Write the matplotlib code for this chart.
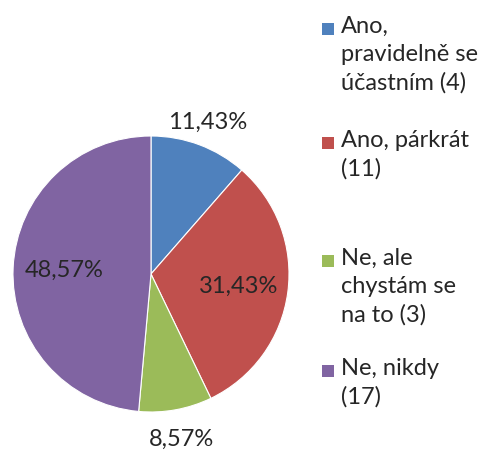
import matplotlib.pyplot as plt
from matplotlib.patches import Rectangle
import numpy as np

# =====================================================
# DATA
# =====================================================
CATEGORIES = [
    "Ano,\npravidelně se\núčastním (4)",
    "Ano, párkrát\n(11)",
    "Ne, ale\nchystám se\nna to (3)",
    "Ne, nikdy\n(17)",
]
COUNTS = [4, 11, 3, 17]
COLORS = ["#4F81BD", "#C0504D", "#9BBB59", "#8064A2"]

# label distance from centre (in radii) for each slice
LABEL_DIST = [1.17, 0.64, 1.22, 0.63]
# legend entry top line y (pixels from top)
LEGEND_Y = [30, 144, 262, 372]

# =====================================================
# STYLE
# =====================================================
plt.rcParams["font.family"] = ["Lato", "DejaVu Sans"]
TEXT_COLOR = "#262626"
FS = 17

W, H = 491, 450
fig = plt.figure(figsize=(W / 100, H / 100), dpi=100)

cx, cy, r = 151, 274, 138
ax = fig.add_axes([(cx - r) / W, (H - cy - r) / H, 2 * r / W, 2 * r / H])
ax.pie(COUNTS, colors=COLORS, startangle=90, counterclock=False,
       wedgeprops=dict(linewidth=0.8, edgecolor="white"))
ax.set_xlim(-1, 1)
ax.set_ylim(-1, 1)
ax.set_aspect("equal")
ax.axis("off")

total = sum(COUNTS)
fracs = np.array(COUNTS) / total
starts = np.concatenate([[0], np.cumsum(fracs)[:-1]])
for frac, start, dist in zip(fracs, starts, LABEL_DIST):
    mid = np.deg2rad(90 - (start + frac / 2) * 360)
    label = f"{frac * 100:.2f}%".replace(".", ",")
    ax.text(dist * np.cos(mid), dist * np.sin(mid), label,
            ha="center", va="center", fontsize=FS, color=TEXT_COLOR,
            clip_on=False)

# =====================================================
# LEGEND (manual, Excel style)
# =====================================================
for cat, col, y in zip(CATEGORIES, COLORS, LEGEND_Y):
    fig.patches.append(Rectangle((322 / W, 1 - (y + 5) / H), 12 / W, 12 / H,
                                 transform=fig.transFigure, facecolor=col,
                                 edgecolor="none"))
    fig.text(341 / W, 1 - (y - 14) / H, cat, ha="left", va="top",
             fontsize=FS, color=TEXT_COLOR, linespacing=1.42)

fig.savefig("out.png", dpi=100)
